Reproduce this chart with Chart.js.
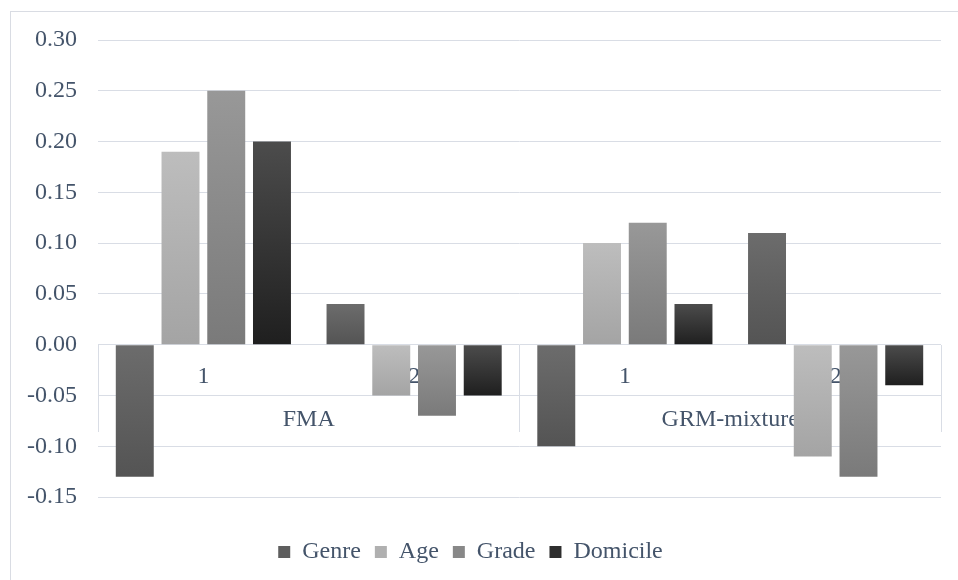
<!DOCTYPE html>
<html>
<head>
<meta charset="utf-8">
<script src="https://cdn.jsdelivr.net/npm/chart.js@4.4.1/dist/chart.umd.min.js"></script>
<style>
  html, body { margin: 0; padding: 0; background: #ffffff; overflow: hidden; width: 958px; height: 580px; }
  #frame { position: absolute; left: 10px; top: 11px; width: 1000px; height: 1000px; border: 1px solid #d9dce3; box-sizing: border-box; }
  #wrap { position: absolute; left: 0; top: 0; width: 958px; height: 580px; }
</style>
</head>
<body>
<div id="frame"></div>
<div id="wrap"><canvas id="c" width="958" height="580"></canvas></div>
<script>
// ---- data ----
const subCategories = ['1', '2', '1', '2'];
const groupLabels = ['FMA', 'GRM-mixture'];
const seriesNames = ['Genre', 'Age', 'Grade', 'Domicile'];
const genreValues = [-0.13, 0.04, -0.10, 0.11];
const ageValues = [0.19, -0.05, 0.10, -0.11];
const gradeValues = [0.25, -0.07, 0.12, -0.13];
const domicileValues = [0.20, -0.05, 0.04, -0.04];
const yTickMin = -0.15, yTickMax = 0.30, yTickStep = 0.05;

// ---- styles ----
const textColor = '#44546a';
const gridColor = '#d9dde5';
const fontFamily = '"Liberation Serif", "Times New Roman", serif';
const gradTop = ['#6c6c6c', '#bdbdbd', '#989898', '#4c4c4c'];
const gradBottom = ['#545454', '#a4a4a4', '#7a7a7a', '#1f1f1f'];
const legendFill = ['#5e5e5e', '#b0b0b0', '#888888', '#2e2e2e'];

function barFill(i) {
  return function (ctx) {
    if (ctx.type !== 'data') return legendFill[i];
    const chart = ctx.chart;
    const ys = chart.scales && chart.scales.y;
    if (!ys || !chart.chartArea) return legendFill[i];
    const v = (ctx.parsed && typeof ctx.parsed.y === 'number') ? ctx.parsed.y : ctx.raw;
    const p1 = ys.getPixelForValue(Math.max(v, 0));
    const p2 = ys.getPixelForValue(Math.min(v, 0));
    if (!isFinite(p1) || !isFinite(p2) || p1 === p2) return legendFill[i];
    const g = chart.ctx.createLinearGradient(0, p1, 0, p2);
    g.addColorStop(0, gradTop[i]);
    g.addColorStop(1, gradBottom[i]);
    return g;
  };
}

const allValues = [genreValues, ageValues, gradeValues, domicileValues];
const datasets = seriesNames.map((name, i) => ({
  label: name,
  data: allValues[i],
  backgroundColor: barFill(i),
  borderWidth: 0,
  categoryPercentage: 0.868,
  barPercentage: 0.83
}));

new Chart(document.getElementById('c'), {
  type: 'bar',
  data: { labels: subCategories, datasets: datasets },
  options: {
    responsive: false,
    animation: false,
    devicePixelRatio: 1,
    layout: { padding: { left: 0, right: 17, top: 40, bottom: 6 } },
    plugins: {
      tooltip: { enabled: false },
      legend: {
        position: 'bottom',
        title: { display: true, text: ' ', font: { size: 10 }, padding: { top: 9, bottom: 8 } },
        labels: {
          boxWidth: 12,
          boxHeight: 12,
          padding: 14,
          color: textColor,
          font: { family: fontFamily, size: 24 },
          generateLabels: (chart) => chart.data.datasets.map((d, i) => ({
            text: d.label,
            fillStyle: legendFill[i],
            strokeStyle: legendFill[i],
            lineWidth: 0,
            hidden: false,
            datasetIndex: i,
            fontColor: textColor
          }))
        }
      }
    },
    scales: {
      y: {
        min: yTickMin,
        max: yTickMax,
        afterFit: (s) => { s.width = 98; },
        border: { display: false },
        grid: { color: gridColor, lineWidth: 1, drawTicks: false },
        ticks: {
          stepSize: yTickStep,
          padding: 21,
          color: textColor,
          font: { family: fontFamily, size: 24 },
          callback: (v) => Number(v).toFixed(2)
        }
      },
      x: {
        position: { y: 0 },
        offset: true,
        border: { display: false },
        grid: { display: false, offset: true },
        ticks: {
          padding: 10,
          color: textColor,
          font: { family: fontFamily, size: 24 },
          maxRotation: 0,
          autoSkip: false
        }
      },
      x2: {
        type: 'category',
        axis: 'x',
        labels: groupLabels,
        position: { y: 0 },
        offset: true,
        border: { display: false },
        grid: { offset: true, drawOnChartArea: false, drawTicks: true, tickLength: 87, color: gridColor, lineWidth: 1 },
        ticks: {
          padding: -26,
          color: textColor,
          font: { family: fontFamily, size: 24 },
          maxRotation: 0,
          autoSkip: false
        }
      }
    }
  }
});
</script>
</body>
</html>
